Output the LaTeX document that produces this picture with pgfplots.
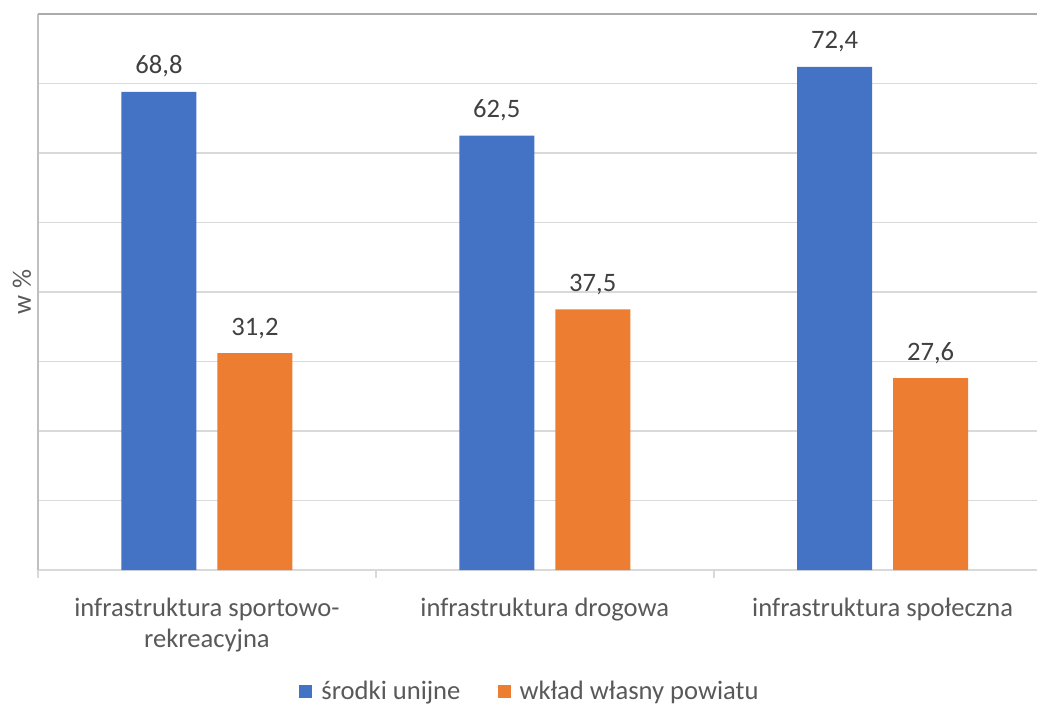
\documentclass[border=0pt]{standalone}
\usepackage{pgfplots}
\pgfplotsset{compat=1.18}
\usepackage{fontspec}
\setmainfont{Carlito}
\definecolor{unia}{HTML}{4472C4}
\definecolor{wklad}{HTML}{ED7D31}
\definecolor{txt}{HTML}{595959}
\definecolor{lbl}{HTML}{404040}
\definecolor{gridc}{HTML}{D9D9D9}
\definecolor{axisc}{HTML}{BFBFBF}
\definecolor{topc}{HTML}{ABABAB}
\begin{document}
\begin{tikzpicture}
\useasboundingbox (0,0) rectangle (518.5pt,353pt);
\begin{axis}[
  at={(19pt,68pt)}, anchor=south west,
  scale only axis, width=499.5pt, height=278pt,
  xmin=-0.5, xmax=2.457, ymin=0, ymax=80,
  ybar, bar width=37.5pt, ybar=10.5pt,
  axis x line*=bottom, axis y line*=left,
  x axis line style={gridc, line width=0.9pt, -},
  y axis line style={axisc, line width=0.9pt, -},
  xtick={0,1,2},
  xticklabels={{infrastruktura sportowo-\\rekreacyjna},{infrastruktura drogowa},{infrastruktura społeczna}},
  minor xtick={-0.5,0.5,1.5},
  major x tick style={draw=none},
  minor x tick style={gridc, line width=0.9pt},
  minor tick length=4pt,
  tick align=outside,
  ytick={0,10,...,70},
  yticklabels=\empty,
  ytick style={draw=none},
  ymajorgrids,
  grid style={gridc, line width=0.9pt},
  extra y ticks={80},
  extra y tick labels={},
  extra y tick style={grid style={topc, line width=1pt}, tick style={draw=none}},
  xticklabel style={font=\fontsize{13.3}{15.5}\selectfont, text=txt, align=center, anchor=north, inner sep=0pt, yshift=-9.5pt},
  ylabel={w \%},
  ylabel style={at={(axis description cs:-0.016,0.5)}, anchor=center, font=\fontsize{13.3}{16}\selectfont, text=txt},
  nodes near coords={\pgfmathprintnumber[fixed,fixed zerofill,precision=1,use comma,assume math mode=true]{\pgfplotspointmeta}},
  nodes near coords style={font=\fontsize{13.3}{16}\selectfont, text=lbl, anchor=base, inner sep=0pt, yshift=9pt},
  legend columns=2,
  legend style={at={(axis description cs:0.496,-0.219)}, anchor=center, draw=none, fill=none,
    font=\fontsize{13.3}{16}\selectfont, text=txt,
    nodes={inner xsep=4.5pt},
    /tikz/every even column/.append style={column sep=14pt}},
  legend image code/.code={\fill[#1, draw=none] (0pt,-3.25pt) rectangle (6.5pt,3.25pt);},
]
\addplot[fill=unia, draw=none] coordinates {(0,68.8) (1,62.5) (2,72.4)};
\addplot[fill=wklad, draw=none] coordinates {(0,31.2) (1,37.5) (2,27.6)};
\legend{środki unijne, wkład własny powiatu}
\end{axis}
\end{tikzpicture}
\end{document}
